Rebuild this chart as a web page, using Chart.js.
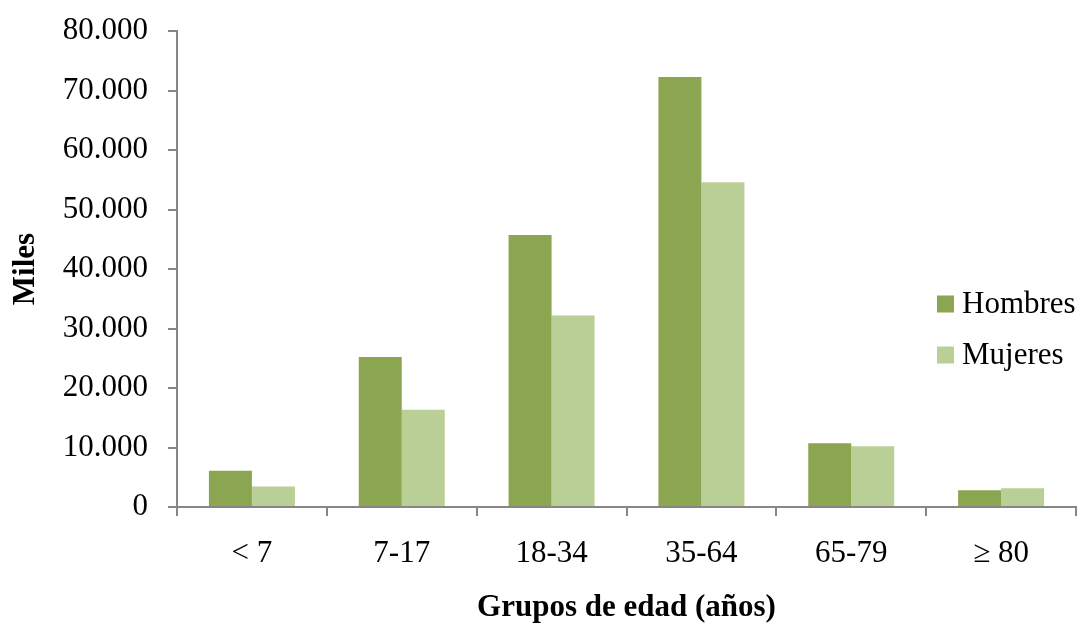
<!DOCTYPE html>
<html>
<head>
<meta charset="utf-8">
<script src="https://cdn.jsdelivr.net/npm/chart.js@4.4.1/dist/chart.umd.min.js"></script>
<style>
  html, body { margin: 0; padding: 0; background: #fff; }
  #chart { display: block; }
</style>
</head>
<body>
<canvas id="chart" width="1080" height="624"></canvas>
<script>
// Data
const ageGroups = ['< 7', '7-17', '18-34', '35-64', '65-79', '\u2265 80'];
const hombres = [6100, 25200, 45700, 72250, 10700, 2800];
const mujeres = [3450, 16350, 32200, 54600, 10200, 3150];
const seriesNames = ['Hombres', 'Mujeres'];
const seriesColors = ['#8ba550', '#bacf96'];
const yTicks = [0, 10000, 20000, 30000, 40000, 50000, 60000, 70000, 80000];

const FONT = '"Liberation Serif", "Times New Roman", serif';
const AXIS_GREY = '#868686';

// thousands with a dot, like the source spreadsheet
function fmtMiles(v) {
    return String(v).replace(/\B(?=(\d{3})+(?!\d))/g, '.');
}

// legend drawn inside the plot, on the right, like the original
const sideLegend = {
    id: 'sideLegend',
    afterDraw(chart) {
        const ctx = chart.ctx;
        const x = 937, y0 = 304, step = 51, box = 17;
        ctx.save();
        ctx.font = '31px ' + FONT;
        ctx.textBaseline = 'middle';
        chart.data.datasets.forEach((ds, i) => {
            const y = y0 + i * step;
            ctx.fillStyle = ds.backgroundColor;
            ctx.fillRect(x, y - box / 2, box, box);
            ctx.fillStyle = '#000';
            ctx.fillText(ds.label, x + 25, y + 1);
        });
        ctx.restore();
    }
};

const ctx = document.getElementById('chart').getContext('2d');
new Chart(ctx, {
    type: 'bar',
    data: {
        labels: ageGroups,
        datasets: [
            { label: seriesNames[0], data: hombres, backgroundColor: seriesColors[0] },
            { label: seriesNames[1], data: mujeres, backgroundColor: seriesColors[1] }
        ]
    },
    options: {
        responsive: false,
        animation: false,
        devicePixelRatio: 1,
        layout: { padding: { top: 31, right: 4, left: 0, bottom: 0 } },
        datasets: {
            bar: { categoryPercentage: 0.574, barPercentage: 1.0, borderWidth: 0 }
        },
        plugins: {
            legend: { display: false },
            tooltip: { enabled: false }
        },
        scales: {
            x: {
                grid: {
                    offset: true,
                    drawOnChartArea: false,
                    drawTicks: true,
                    tickLength: 9,
                    color: AXIS_GREY,
                    lineWidth: 2
                },
                border: { display: true, color: AXIS_GREY, width: 2 },
                ticks: {
                    color: '#000',
                    padding: 19,
                    font: { family: FONT, size: 31 }
                },
                title: {
                    display: true,
                    text: 'Grupos de edad (años)',
                    color: '#000',
                    padding: { top: 0, bottom: 0 },
                    font: { family: FONT, size: 31, weight: 'bold', lineHeight: 1.05 }
                },
                afterFit(scale) {
                    scale.height = 117;
                    scale.paddingLeft = 0;
                    scale.paddingRight = 0;
                }
            },
            y: {
                min: 0,
                max: 80000,
                afterBuildTicks(scale) { scale.ticks = yTicks.map(v => ({ value: v })); },
                grid: {
                    drawOnChartArea: false,
                    drawTicks: true,
                    tickLength: 9,
                    color: AXIS_GREY,
                    lineWidth: 2
                },
                border: { display: true, color: AXIS_GREY, width: 2 },
                ticks: {
                    color: '#000',
                    padding: 20,
                    font: { family: FONT, size: 31 },
                    callback: v => fmtMiles(v)
                },
                title: {
                    display: true,
                    text: 'Miles',
                    color: '#000',
                    padding: { top: 7, bottom: 0 },
                    font: { family: FONT, size: 31, weight: 'bold' }
                },
                afterFit(scale) {
                    scale.width = 177;
                    scale.paddingTop = 0;
                    scale.paddingBottom = 0;
                }
            }
        }
    },
    plugins: [sideLegend]
});
</script>
</body>
</html>
